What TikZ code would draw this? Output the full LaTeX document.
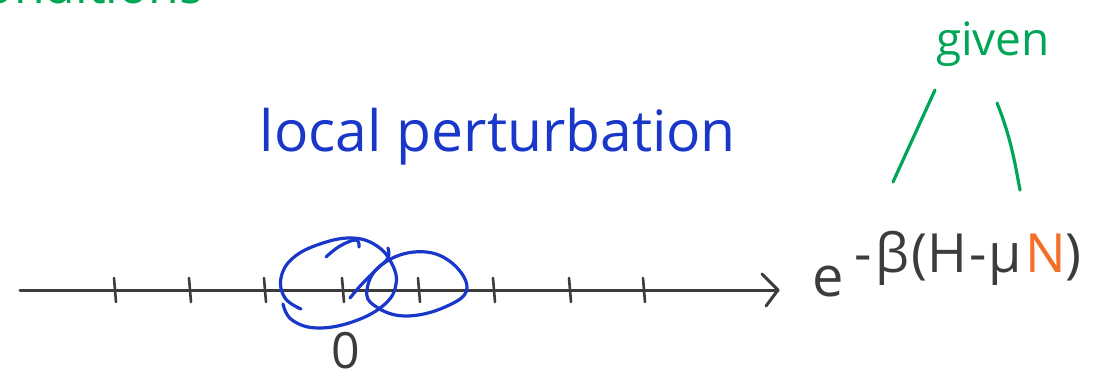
\documentclass[tikz,border=0pt]{standalone}
\usepackage{fontspec}
\setmainfont{Open Sans}
\definecolor{penblue}{RGB}{25,55,200}
\definecolor{pengreen}{RGB}{0,165,85}
\definecolor{penorange}{RGB}{245,110,40}
\definecolor{pengray}{RGB}{60,60,60}
\tikzset{
  axisline/.style={pengray, line width=3pt, line cap=round},
  tickmark/.style={pengray, line width=2.6pt, line cap=round},
  loopline/.style={penblue, line width=3.2pt, line cap=round, line join=round},
  givenline/.style={pengreen, line width=3.2pt, line cap=round},
  lbl/.style={inner sep=0pt, anchor=base},
}
\begin{document}
\begin{tikzpicture}[x=1pt,y=-1pt]
\useasboundingbox (0,0) rectangle (1110,382);
% cut-off heading at top left
\node[lbl, pengreen, font=\fontsize{50}{50}\selectfont, anchor=base west] (heading) at (-40,4) {conditions};
% title
\node[lbl, penblue, font=\fontsize{57}{57}\selectfont] (title) at (498,152) {local perturbation};
% axis
\coordinate (axstart) at (20,290);
\coordinate (axend) at (778,290);
\draw[axisline] (axstart) -- (axend);
\draw[axisline, line join=round] (762,274) -- (axend) -- (766,306);
\foreach \x/\n in {115/1,190/2,265/3,343/4,419/5,494/6,570/7,644/8}{
  \coordinate (t\n) at (\x,290);
  \draw[tickmark] ([shift={(-1,-12)}]t\n) -- ([shift={(1,12)}]t\n);
}
% origin label
\node[lbl, pengray, font=\fontsize{50}{50}\selectfont] (origin) at (346,368) {0};
% blue loops
\draw[loopline] plot[smooth, tension=0.7] coordinates {(301,309) (285,298) (281,278) (293,258) (320,244) (352,238) (377,246) (392,264) (396,284) (385,304) (355,321) (318,328) (292,320) (283,304)};
\draw[loopline] plot[smooth, tension=0.7] coordinates {(326,257) (340,246) (356,240) (359,247)};
\draw[loopline] plot[smooth, tension=0.7] coordinates {(350,298) (362,284) (378,268) (388,258) (388,248)};
\draw[loopline] plot[smooth cycle, tension=0.7] coordinates {(367,290) (380,266) (414,252) (448,260) (467,288) (445,307) (405,316) (375,306)};
% formula
\node[lbl, pengray, font=\fontsize{56}{56}\selectfont, anchor=base west] (formula) at (812,296) {e};
\node[lbl, pengray, font=\fontsize{54}{54}\selectfont, anchor=base west] (expo) at (854,272) {-\kern4ptβ\kern2pt(H\kern2pt-\kern2ptμ\kern3pt\textcolor{penorange}{N})};
% given
\node[lbl, pengreen, font=\fontsize{46}{46}\selectfont] (given) at (993,56) {given};
\coordinate (gl1) at (935,90);
\coordinate (gl2) at (893,182);
\coordinate (gr1) at (997,103);
\coordinate (gr2) at (1020,190);
\draw[givenline] (gl1) -- (gl2);
\draw[givenline] (gr1) .. controls (1012,140) and (1016,170) .. (gr2);
\end{tikzpicture}
\end{document}
